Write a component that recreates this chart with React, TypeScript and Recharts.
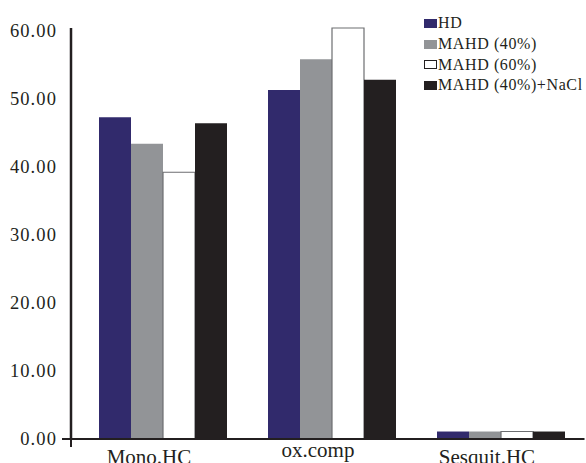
import React from "react";
import { BarChart, Bar, XAxis, YAxis, Legend } from "recharts";

const categories = ["Mono.HC", "ox.comp", "Sesquit.HC"];
const hd = [47.3, 51.3, 1.1];
const mahd40 = [43.4, 55.8, 1.1];
const mahd60 = [39.2, 60.4, 1.1];
const mahd40NaCl = [46.4, 52.8, 1.1];
const yTicks = [0, 10, 20, 30, 40, 50, 60];

const SERIES = [
  { key: "hd", name: "HD", fill: "#312a6c", stroke: "none", box: "#312a6c" },
  { key: "mahd40", name: "MAHD (40%)", fill: "#929497", stroke: "none", box: "#929497" },
  { key: "mahd60", name: "MAHD (60%)", fill: "#ffffff", stroke: "#6d6e71", box: "#231f20" },
  { key: "mahd40NaCl", name: "MAHD (40%)+NaCl", fill: "#231f20", stroke: "none", box: "#231f20" },
];

const data = categories.map((name, i) => ({
  name,
  hd: hd[i],
  mahd40: mahd40[i],
  mahd60: mahd60[i],
  mahd40NaCl: mahd40NaCl[i],
}));

const FONT = '"Liberation Serif", "Times New Roman", serif';
const INK = "#231f20";

// ox.comp sits a little higher than the other labels in the original
const LABEL_LIFT: Record<string, number> = { "ox.comp": 7 };

function YTick(props: any) {
  const { x, y, payload } = props;
  return (
    <g>
      <text
        x={x}
        y={y}
        dy="0.33em"
        textAnchor="end"
        fontFamily={FONT}
        fontSize={18.5}
        letterSpacing={1.1}
        fill={INK}
      >
        {Number(payload.value).toFixed(2)}
      </text>
      {payload.value === 0 && (
        <g stroke={INK} strokeWidth={2}>
          <line x1={x + 5} x2={x + 14} y1={y} y2={y} />
          <line x1={x + 14} x2={x + 14} y1={y} y2={y + 8} />
        </g>
      )}
    </g>
  );
}

function XTick(props: any) {
  const { x, y, payload } = props;
  const lift = LABEL_LIFT[payload.value] || 0;
  return (
    <text
      x={x - 13}
      y={y + 25 - lift}
      textAnchor="middle"
      fontFamily={FONT}
      fontSize={21}
      fill={INK}
    >
      {payload.value}
    </text>
  );
}

function LegendBox() {
  return (
    <div style={{ fontFamily: FONT, fontSize: 16, color: INK, letterSpacing: 0.6 }}>
      {SERIES.map((s) => (
        <div
          key={s.key}
          style={{ display: "flex", alignItems: "center", height: 20.8, lineHeight: "20.8px" }}
        >
          <span
            style={{
              display: "inline-block",
              boxSizing: "border-box",
              width: 12.5,
              height: 9,
              background: s.fill,
              border: s.key === "mahd60" ? `1px solid ${s.box}` : "none",
              marginRight: 1.5,
            }}
          />
          <span style={{ whiteSpace: "nowrap" }}>{s.name}</span>
        </div>
      ))}
    </div>
  );
}

export default function App() {
  return (
    <div style={{ position: "absolute", left: 0, top: 0, background: "#fff" }}>
      <BarChart
        width={586}
        height={463}
        data={data}
        margin={{ top: 28, right: 1.5, left: 0, bottom: 0 }}
        barCategoryGap={21.5}
        barGap={0}
      >
        <XAxis
          dataKey="name"
          height={24}
          padding={{ left: 6.5, right: 0 }}
          axisLine={{ stroke: INK, strokeWidth: 2 }}
          tickLine={false}
          tickSize={0}
          tickMargin={0}
          tick={<XTick />}
          interval={0}
        />
        <YAxis
          width={71}
          domain={[0, 60]}
          ticks={yTicks}
          axisLine={{ stroke: INK, strokeWidth: 2.5 }}
          tickLine={false}
          tickSize={0}
          tickMargin={14}
          tick={<YTick />}
        />
        <Legend
          layout="vertical"
          align="center"
          verticalAlign="middle"
          wrapperStyle={{ top: 13, left: 424, width: 170 }}
          content={() => <LegendBox />}
        />
        {SERIES.map((s) => (
          <Bar
            key={s.key}
            dataKey={s.key}
            name={s.name}
            fill={s.fill}
            stroke={s.stroke}
            strokeWidth={1.2}
            isAnimationActive={false}
          />
        ))}
      </BarChart>
    </div>
  );
}
